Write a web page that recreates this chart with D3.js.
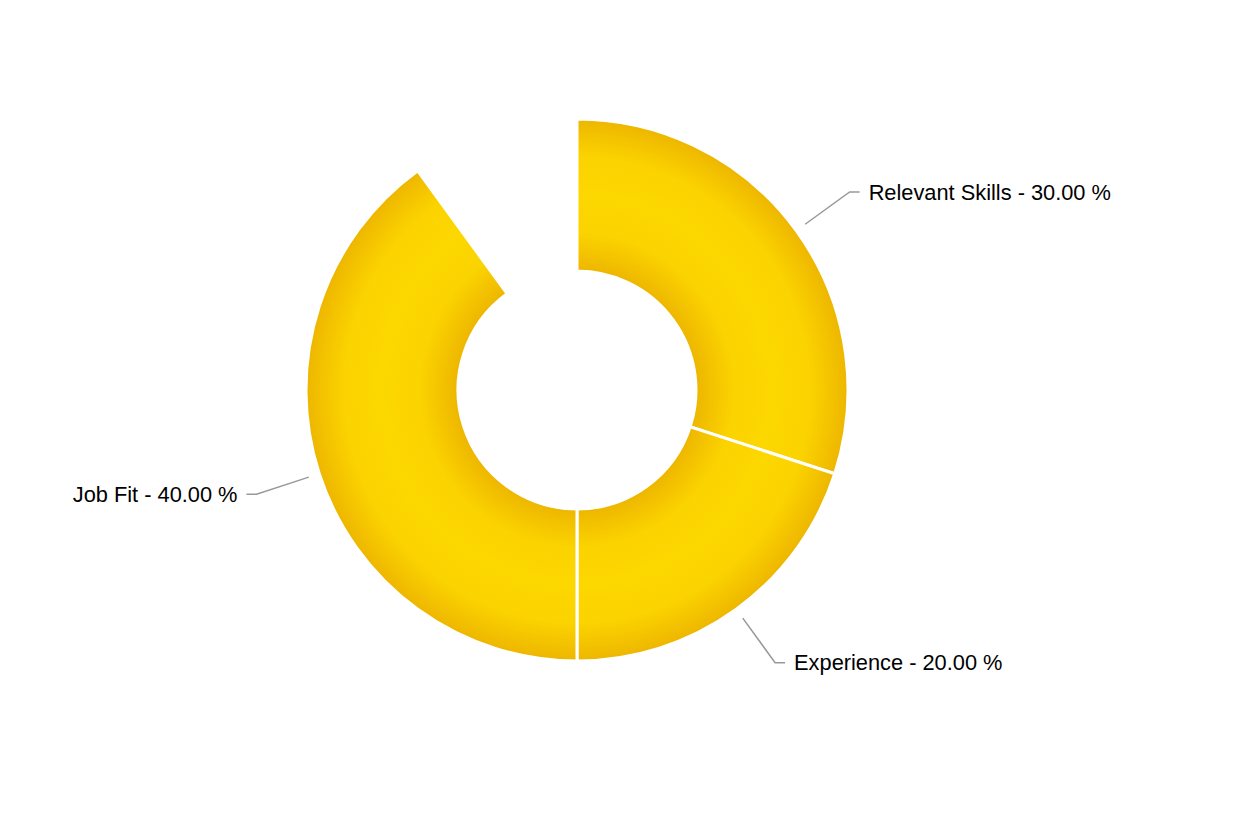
<!DOCTYPE html>
<html>
<head>
<meta charset="utf-8">
<script src="https://cdn.jsdelivr.net/npm/d3@7"></script>
<style>
html,body{margin:0;padding:0;background:#fff;}
svg{display:block;}
</style>
</head>
<body>
<svg id="chart" width="1254" height="832"></svg>
<script>
const categories = ["Relevant Skills", "Experience", "Job Fit"];
const values = [30, 20, 40];
const total = 100;

const W = 1254, H = 832;
const cx = 577, cy = 390;
const outerR = 271, innerR = 119;

const svg = d3.select("#chart");
const defs = svg.append("defs");
const grad = defs.append("radialGradient")
  .attr("id", "gold")
  .attr("gradientUnits", "userSpaceOnUse")
  .attr("cx", 0).attr("cy", 0).attr("r", outerR);
const f0 = innerR / outerR;
const fm = (innerR + outerR) / 2 / outerR;
[[0, "#edb600"], [f0, "#edb600"], [f0 + (fm - f0) * 0.5, "#fbd300"], [fm, "#fdd700"], [fm + (1 - fm) * 0.5, "#fbd300"], [1, "#edb600"]]
  .forEach(([o, c]) => grad.append("stop").attr("offset", o).attr("stop-color", c));

const angle = d3.scaleLinear().domain([0, total]).range([0, 2 * Math.PI]);

let acc = 0;
const slices = categories.map((c, i) => {
  const s = { name: c, value: values[i], startAngle: angle(acc), endAngle: angle(acc + values[i]) };
  acc += values[i];
  return s;
});

const g = svg.append("g").attr("transform", `translate(${cx},${cy})`);
const arc = d3.arc().innerRadius(innerR).outerRadius(outerR);

g.selectAll("path.slice").data(slices).join("path")
  .attr("class", "slice")
  .attr("d", arc)
  .attr("fill", "url(#gold)")
  .attr("stroke", "#fff")
  .attr("stroke-width", 3)
  .attr("stroke-linejoin", "miter");

const rStart = 282, rElbow = 337, hLen = 10, textGap = 9;
const pt = (a, r) => [r * Math.sin(a), -r * Math.cos(a)];

slices.forEach(s => {
  const mid = (s.startAngle + s.endAngle) / 2;
  const p0 = pt(mid, rStart);
  const p1 = pt(mid, rElbow);
  const right = Math.sin(mid) >= 0;
  const p2 = [p1[0] + (right ? hLen : -hLen), p1[1]];
  g.append("polyline")
    .attr("points", [p0, p1, p2].map(p => p.join(",")).join(" "))
    .attr("fill", "none")
    .attr("stroke", "#999")
    .attr("stroke-width", 1.5);
  g.append("text")
    .attr("x", p2[0] + (right ? textGap : -textGap))
    .attr("y", p2[1])
    .attr("dy", "0.35em")
    .attr("text-anchor", right ? "start" : "end")
    .attr("font-family", "Liberation Sans, Arial, Helvetica, sans-serif")
    .attr("font-size", 21.8)
    .attr("fill", "#000")
    .text(`${s.name} - ${d3.format(".2f")(s.value)} %`);
});
</script>
</body>
</html>
